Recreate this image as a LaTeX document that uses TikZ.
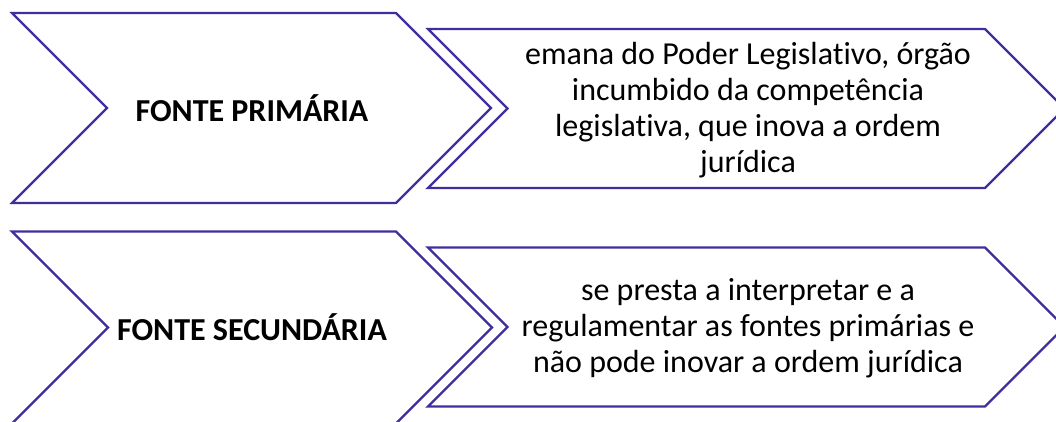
\documentclass[tikz,border=0pt]{standalone}
\usepackage{fontspec}
\setmainfont{Carlito}[Ligatures=NoCommon]
\usepackage{tikz}
\usetikzlibrary{positioning}
\definecolor{edge}{HTML}{3F2E9E}
\tikzset{
  chev/.style={draw=edge,line width=2.4pt,line join=miter,fill=white},
  head/.style={font=\fontsize{32}{36}\selectfont\bfseries,align=center},
  desc/.style={font=\fontsize{32}{36}\selectfont,align=center}
}

\begin{document}
\begin{tikzpicture}[x=1pt,y=-1pt]
  \useasboundingbox (0,0) rectangle (1056,421);
  % primary row
  \draw[chev] (12,13) -- ++(384,0) -- ++(95,95) -- ++(-95,95) -- ++(-384,0) -- ++(95,-95) -- cycle;
  \draw[chev] (428,29) -- ++(557,0) -- ++(79.5,79.5) -- ++(-79.5,79.5) -- ++(-557,0) -- ++(79.5,-79.5) -- cycle;
  \node[head] (prim) at (252,108) {FONTE PRIMÁRIA};
  \node[desc] (primdesc) at (748,110) {emana do Poder Legislativo, órgão\\incumbido da competência\\legislativa, que inova a ordem\\jurídica};
  % secondary row
  \draw[chev] (12,231.5) -- ++(384,0) -- ++(96,96) -- ++(-96,96) -- ++(-384,0) -- ++(96,-96) -- cycle;
  \draw[chev] (428,247.5) -- ++(557,0) -- ++(79.5,79.5) -- ++(-79.5,79.5) -- ++(-557,0) -- ++(79.5,-79.5) -- cycle;
  \node[head] (sec) at (252,327) {FONTE SECUNDÁRIA};
  \node[desc] (secdesc) at (748,328) {se presta a interpretar e a\\regulamentar as fontes primárias e\\não pode inovar a ordem jurídica};
\end{tikzpicture}
\end{document}
